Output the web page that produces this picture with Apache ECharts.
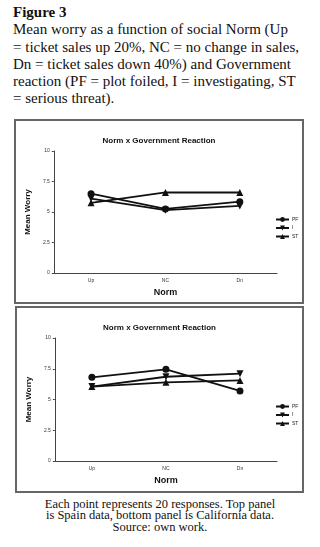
<!DOCTYPE html>
<html>
<head>
<meta charset="utf-8">
<script src="https://cdn.jsdelivr.net/npm/echarts@6/dist/echarts.min.js"></script>
<style>
  body { margin: 0; background: #fff; width: 320px; height: 547px; position: relative; overflow: hidden; }
  .txt { position: absolute; font-family: "Liberation Serif", "Times New Roman", serif; color: #111; }
  #head { left: 13px; top: 4px; font-size: 15px; line-height: 17.3px; white-space: nowrap; }
  #foot { left: 0; width: 320px; top: 499px; font-size: 12.5px; line-height: 11.3px; text-align: center; white-space: nowrap; }
  .panel { position: absolute; border: 2px solid #666; background: #fff; }
  #top { left: 14px; top: 119px; width: 286px; height: 181px; }
  #bot { left: 15px; top: 306px; width: 285px; height: 183px; }
</style>
</head>
<body>
<div class="txt" id="head"><b>Figure 3</b><br>Mean worry as a function of social Norm (Up<br>= ticket sales up 20%, NC = no change in sales,<br>Dn = ticket sales down 40%) and Government<br>reaction (PF = plot foiled, I = investigating, ST<br>= serious threat).</div>
<div class="panel" id="top"></div>
<div class="panel" id="bot"></div>
<div class="txt" id="foot">Each point represents 20 responses. Top panel<br>is Spain data, bottom panel is California data.<br>Source: own work.</div>
<script>
// 数据
const categories = ['Up', 'NC', 'Dn']
const yTicks = [0, 2.5, 5, 7.5, 10]
const seriesNames = ['PF', 'I', 'ST']

// 上图: Spain
const spainPF = [6.5, 5.25, 5.85]
const spainI = [6.1, 5.15, 5.5]
const spainST = [5.75, 6.6, 6.6]

// 下图: California
const califPF = [6.8, 7.45, 5.7]
const califI = [6.05, 6.85, 7.1]
const califST = [6.05, 6.4, 6.55]

const markers = [
  { symbol: 'circle', rotate: 0, size: 7 },
  { symbol: 'triangle', rotate: 180, size: 7 },
  { symbol: 'triangle', rotate: 0, size: 7 }
]

function createPanelOptions(data, grid) {
  return {
    animation: false,
    title: {
      text: 'Norm x Government Reaction',
      left: 'center',
      top: 11,
      textStyle: { fontFamily: 'Liberation Sans', fontSize: 8, fontWeight: 'bold', color: '#111' }
    },
    legend: {
      orient: 'vertical',
      left: grid.legendLeft,
      top: 91,
      itemWidth: 13,
      itemHeight: 6,
      itemGap: 3.5,
      textStyle: { fontFamily: 'Liberation Sans', fontSize: 5, color: '#222', padding: [0, 0, 0, -2] },
      data: seriesNames
    },
    grid: { left: grid.left, right: grid.right, top: grid.top, bottom: grid.bottom },
    xAxis: {
      type: 'category',
      data: categories,
      boundaryGap: true,
      name: 'Norm',
      nameLocation: 'middle',
      nameGap: 15,
      nameTextStyle: { fontFamily: 'Liberation Sans', fontSize: 9, fontWeight: 'bold', color: '#111' },
      axisLine: { lineStyle: { color: '#444', width: 1 } },
      axisTick: { show: false },
      axisLabel: { fontFamily: 'Liberation Sans', fontSize: 5, color: '#333', margin: 5 }
    },
    yAxis: {
      type: 'value',
      min: yTicks[0],
      max: yTicks[yTicks.length - 1],
      interval: 2.5,
      name: 'Mean Worry',
      nameLocation: 'middle',
      nameGap: 18,
      nameTextStyle: { fontFamily: 'Liberation Sans', fontSize: 8, fontWeight: 'bold', color: '#111' },
      axisLine: { show: true, lineStyle: { color: '#444', width: 1 } },
      axisTick: { show: true, length: 2, lineStyle: { color: '#444' } },
      splitLine: { show: false },
      axisLabel: { fontFamily: 'Liberation Sans', fontSize: 5, color: '#333', margin: 4 }
    },
    series: data.map((vals, i) => ({
      name: seriesNames[i],
      type: 'line',
      data: vals,
      symbol: markers[i].symbol,
      symbolRotate: markers[i].rotate,
      symbolSize: markers[i].size,
      itemStyle: { color: '#111' },
      lineStyle: { color: '#111', width: 1.8 }
    }))
  }
}

const topChart = echarts.init(document.getElementById('top'))
topChart.setOption(createPanelOptions([spainPF, spainI, spainST], { left: 33, right: 25, top: 30, bottom: 28, legendLeft: 254 }))

const botChart = echarts.init(document.getElementById('bot'))
botChart.setOption(createPanelOptions([califPF, califI, califST], { left: 32, right: 25, top: 30, bottom: 30, legendLeft: 253 }))
</script>
</body>
</html>
